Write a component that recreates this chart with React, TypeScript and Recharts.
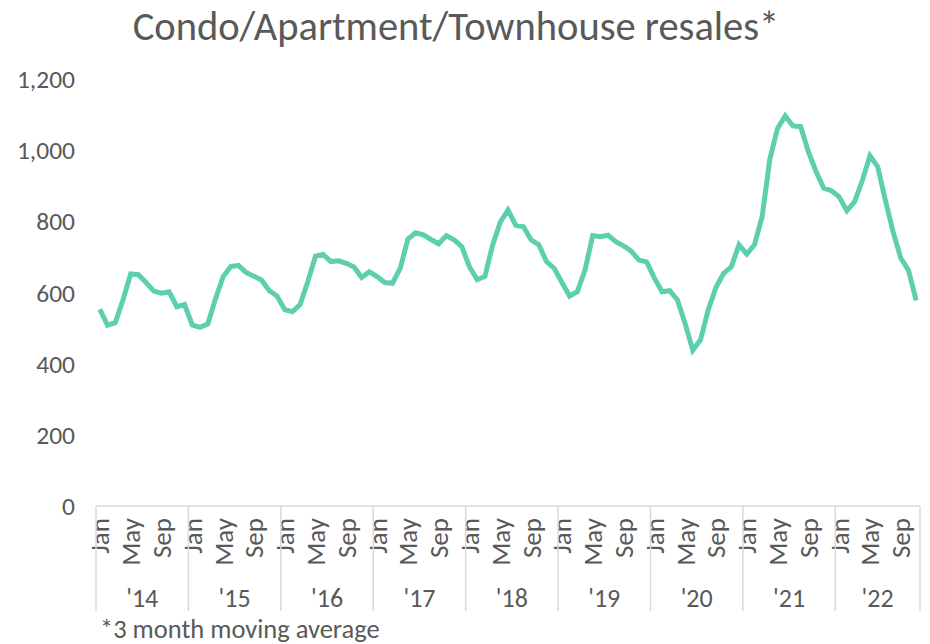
import { LineChart, Line, XAxis, YAxis } from "recharts";

// monthly resales, 3 month moving average
const years = ["'14", "'15", "'16", "'17", "'18", "'19", "'20", "'21", "'22"];
const monthNames = ["Jan", "Feb", "Mar", "Apr", "May", "Jun", "Jul", "Aug", "Sep", "Oct", "Nov", "Dec"];
const shownMonths = ["Jan", "May", "Sep"];
const yTicks = [0, 200, 400, 600, 800, 1000, 1200];

const sales2014 = [553, 508, 515, 579, 652, 650, 628, 604, 598, 602, 560, 566];
const sales2015 = [509, 502, 511, 581, 644, 673, 676, 656, 646, 635, 605, 590];
const sales2016 = [552, 546, 566, 630, 702, 707, 687, 689, 682, 672, 642, 658];
const sales2017 = [645, 628, 626, 668, 750, 768, 762, 749, 737, 760, 748, 729];
const sales2018 = [672, 636, 645, 733, 798, 832, 789, 785, 748, 734, 687, 668];
const sales2019 = [628, 590, 602, 663, 760, 757, 761, 743, 731, 716, 691, 686];
const sales2020 = [641, 602, 605, 579, 513, 438, 467, 551, 614, 654, 672, 734];
const sales2021 = [708, 734, 813, 975, 1061, 1096, 1068, 1066, 996, 940, 893, 886];
const sales2022 = [869, 830, 855, 914, 984, 954, 860, 771, 697, 663, 578];

const salesByYear = [sales2014, sales2015, sales2016, sales2017, sales2018, sales2019, sales2020, sales2021, sales2022];

const data = salesByYear.flatMap((vals, yi) =>
  vals.map((v, mi) => ({ key: `${yi}-${mi}`, year: yi, month: mi, value: v }))
);

const FONT = "Carlito, Calibri, 'Open Sans', sans-serif";
const GREY = "#595959";
const AXIS = "#d9d9d9";
const PLOT_LEFT = 96;
const PLOT_RIGHT = 920;
const STEP = (PLOT_RIGHT - PLOT_LEFT) / data.length;
const HALF = STEP / 2;

const MonthTick = (props: any) => {
  const { x, y, payload } = props;
  const d = data[payload.index];
  if (!d) return null;
  const name = monthNames[d.month];
  const count = salesByYear[d.year].length;
  const isLast = payload.index === data.length - 1;
  return (
    <g>
      {shownMonths.includes(name) && (
        <text
          transform={`translate(${x},${y + 12}) rotate(-90)`}
          textAnchor="end"
          dominantBaseline="central"
          fill={GREY}
          fontSize={27}
          fontFamily={FONT}
        >
          {name}
        </text>
      )}
      {d.month === 0 && (
        <>
          <line x1={x - HALF} x2={x - HALF} y1={y} y2={y + 105} stroke={AXIS} strokeWidth={1.5} />
          <text
            x={x - HALF + (count * STEP) / 2}
            y={y + 101}
            textAnchor="middle"
            fill={GREY}
            fontSize={26}
            fontFamily={FONT}
          >
            {years[d.year]}
          </text>
        </>
      )}
      {isLast && <line x1={x + HALF} x2={x + HALF} y1={y} y2={y + 105} stroke={AXIS} strokeWidth={1.5} />}
    </g>
  );
};

export default function App() {
  return (
    <div style={{ position: "absolute", left: 0, top: 0, width: 930, height: 644, background: "#fff", overflow: "hidden" }}>
      <div
        style={{
          position: "absolute",
          top: 1,
          left: 0,
          width: 912,
          textAlign: "center",
          fontFamily: FONT,
          fontSize: 40.5,
          color: GREY,
          whiteSpace: "nowrap",
        }}
      >
        Condo/Apartment/Townhouse resales*
      </div>
      <LineChart width={930} height={644} data={data} margin={{ top: 79, right: 10, left: 0, bottom: 0 }}>
        <XAxis
          dataKey="key"
          height={138}
          interval={0}
          tickLine={false}
          tickSize={0}
          tickMargin={0}
          padding={{ left: HALF, right: HALF }}
          axisLine={{ stroke: AXIS, strokeWidth: 1.5 }}
          tick={<MonthTick />}
        />
        <YAxis
          width={96}
          domain={[0, 1200]}
          ticks={yTicks}
          interval={0}
          axisLine={false}
          tickLine={false}
          tickMargin={15}
          tick={{ fill: GREY, fontSize: 25.5, fontFamily: FONT }}
          tickFormatter={(v: number) => v.toLocaleString("en-US")}
        />
        <Line
          type="linear"
          dataKey="value"
          stroke="#5dcfae"
          strokeWidth={5}
          dot={false}
          isAnimationActive={false}
        />
      </LineChart>
      <div
        style={{
          position: "absolute",
          left: 100,
          top: 613,
          fontFamily: FONT,
          fontSize: 26.5,
          color: GREY,
          whiteSpace: "nowrap",
        }}
      >
        *3 month moving average
      </div>
    </div>
  );
}
